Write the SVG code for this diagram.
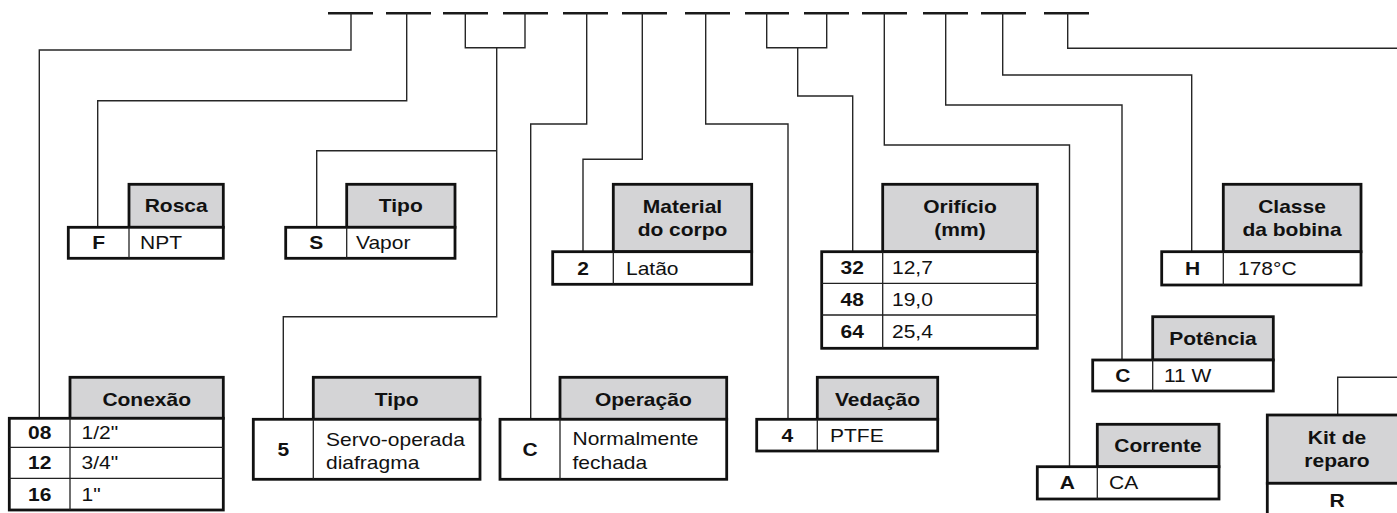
<svg xmlns="http://www.w3.org/2000/svg" width="1397" height="513" viewBox="0 0 1397 513">
<style>
.bg{fill:#ffffff}
.ds{stroke:#1a1a1a;stroke-width:2.6;fill:none}
.cn{stroke:#262626;stroke-width:1.4;fill:none}
.hd{fill:#d4d4d6;stroke:#111;stroke-width:2.8}
.rw{fill:#ffffff;stroke:#111;stroke-width:2.8}
.dv{stroke:#222;stroke-width:1.3;fill:none}
text{font-family:"Liberation Sans",Arial,Helvetica,sans-serif;font-size:17.5px;fill:#111}
.th{font-weight:bold;text-anchor:middle}
.cd{font-weight:bold;text-anchor:middle}
.vl{text-anchor:start}
</style>
<rect class="bg" x="0" y="0" width="1397" height="513"/>
<g id="connectors">
<path class="ds" d="M328,13.3H373M386,13.3H431M443,13.3H488M503,13.3H548M563,13.3H608M622,13.3H667M685,13.3H730M745,13.3H789M804,13.3H849M862,13.3H907M923,13.3H968M981,13.3H1026M1044,13.3H1089"/>
<path class="cn" d="M351,13 V50 H39.3 V418.3"/>
<path class="cn" d="M406.7,13 V100.7 H97.7 V227.3"/>
<path class="cn" d="M465.3,13 V47.7 H525 V13 M496.7,47.7 V316.7 H283.3 V419.3 M496.7,150.7 H316.7 V227.3"/>
<path class="cn" d="M586.7,13 V124 H530.7 V419.3"/>
<path class="cn" d="M642.3,13 V159.3 H583 V251.7"/>
<path class="cn" d="M705.7,13 V124 H788 V419.3"/>
<path class="cn" d="M766.7,13 V47.7 H826.7 V13 M797.7,47.7 V96 H852.7 V251.7"/>
<path class="cn" d="M884.3,13 V145 H1069.5 V466.7"/>
<path class="cn" d="M945.7,13 V105 H1122 V360"/>
<path class="cn" d="M1002.7,13 V75 H1191.7 V251.7"/>
<path class="cn" d="M1067.7,13 V48.3 H1400 M1400,377.3 H1337.7 V415"/>
</g>
<g id="conexao">
<rect class="hd" x="70" y="377.3" width="153.3" height="41"/>
<rect class="rw" x="9.3" y="418.3" width="214" height="91.7"/>
<path class="dv" d="M70,418.3V510M9.3,447.3H223.3M9.3,478.3H223.3"/>
<text class="th" transform="matrix(1.2 0 0 1 146.7 406)">Conexão</text>
<text class="cd" transform="matrix(1.2 0 0 1 39.7 439.3)">08</text>
<text class="cd" transform="matrix(1.2 0 0 1 39.7 469.3)">12</text>
<text class="cd" transform="matrix(1.2 0 0 1 39.7 500.7)">16</text>
<text class="vl" transform="matrix(1.2 0 0 1 81.5 439.3)">1/2"</text>
<text class="vl" transform="matrix(1.2 0 0 1 81.5 469.3)">3/4"</text>
<text class="vl" transform="matrix(1.2 0 0 1 81.5 500.7)">1"</text>
</g>
<g id="rosca">
<rect class="hd" x="129" y="184.3" width="94.3" height="43"/>
<rect class="rw" x="68.3" y="227.3" width="155" height="31"/>
<path class="dv" d="M129,227.3V258.3"/>
<text class="th" transform="matrix(1.2 0 0 1 176.2 212)">Rosca</text>
<text class="cd" transform="matrix(1.2 0 0 1 98.7 249.3)">F</text>
<text class="vl" transform="matrix(1.2 0 0 1 140 249.3)">NPT</text>
</g>
<g id="tipo-s">
<rect class="hd" x="346.7" y="184.3" width="108.3" height="43"/>
<rect class="rw" x="285.7" y="227.3" width="169.3" height="31"/>
<path class="dv" d="M346.7,227.3V258.3"/>
<text class="th" transform="matrix(1.2 0 0 1 400.8 212)">Tipo</text>
<text class="cd" transform="matrix(1.2 0 0 1 316.2 249.3)">S</text>
<text class="vl" transform="matrix(1.2 0 0 1 356 249.3)">Vapor</text>
</g>
<g id="tipo-5">
<rect class="hd" x="313.3" y="377.3" width="166.7" height="42"/>
<rect class="rw" x="253.3" y="419.3" width="226.7" height="60"/>
<path class="dv" d="M313.3,419.3V479.3"/>
<text class="th" transform="matrix(1.2 0 0 1 396.7 405.5)">Tipo</text>
<text class="cd" transform="matrix(1.2 0 0 1 283.3 455.6)">5</text>
<text class="vl" transform="matrix(1.2 0 0 1 326 445.5)">Servo-operada</text>
<text class="vl" transform="matrix(1.2 0 0 1 326 468.8)">diafragma</text>
</g>
<g id="material">
<rect class="hd" x="613.3" y="184.3" width="138.4" height="67.4"/>
<rect class="rw" x="552.7" y="251.7" width="199" height="32.6"/>
<path class="dv" d="M613.3,251.7V284.3"/>
<text class="th" transform="matrix(1.2 0 0 1 682.5 212.5)">Material</text>
<text class="th" transform="matrix(1.2 0 0 1 682.5 235.5)">do corpo</text>
<text class="cd" transform="matrix(1.2 0 0 1 583 274.5)">2</text>
<text class="vl" transform="matrix(1.2 0 0 1 626 274.5)">Latão</text>
</g>
<g id="operacao">
<rect class="hd" x="560" y="377.3" width="166.7" height="42"/>
<rect class="rw" x="500" y="419.3" width="226.7" height="60"/>
<path class="dv" d="M560,419.3V479.3"/>
<text class="th" transform="matrix(1.2 0 0 1 643.3 405.5)">Operação</text>
<text class="cd" transform="matrix(1.2 0 0 1 530 455.6)">C</text>
<text class="vl" transform="matrix(1.2 0 0 1 572.5 445)">Normalmente</text>
<text class="vl" transform="matrix(1.2 0 0 1 572.5 468.8)">fechada</text>
</g>
<g id="vedacao">
<rect class="hd" x="817.3" y="377.3" width="120.4" height="42"/>
<rect class="rw" x="756.7" y="419.3" width="181" height="31.7"/>
<path class="dv" d="M817.3,419.3V451"/>
<text class="th" transform="matrix(1.2 0 0 1 877.5 405.5)">Vedação</text>
<text class="cd" transform="matrix(1.2 0 0 1 787.3 441.7)">4</text>
<text class="vl" transform="matrix(1.2 0 0 1 830 441.7)">PTFE</text>
</g>
<g id="orificio">
<rect class="hd" x="882.7" y="184.3" width="154.6" height="67.4"/>
<rect class="rw" x="821.7" y="251.7" width="215.6" height="96.6"/>
<path class="dv" d="M882.7,251.7V348.3M821.7,283.3H1037.3M821.7,315H1037.3"/>
<text class="th" transform="matrix(1.2 0 0 1 960 212.5)">Orifício</text>
<text class="th" transform="matrix(1.2 0 0 1 960 235.5)">(mm)</text>
<text class="cd" transform="matrix(1.2 0 0 1 852.2 274)">32</text>
<text class="cd" transform="matrix(1.2 0 0 1 852.2 305.7)">48</text>
<text class="cd" transform="matrix(1.2 0 0 1 852.2 338.2)">64</text>
<text class="vl" transform="matrix(1.2 0 0 1 892 274)">12,7</text>
<text class="vl" transform="matrix(1.2 0 0 1 892 305.7)">19,0</text>
<text class="vl" transform="matrix(1.2 0 0 1 892 338.2)">25,4</text>
</g>
<g id="classe">
<rect class="hd" x="1223.3" y="184.3" width="137.7" height="67.4"/>
<rect class="rw" x="1161.7" y="251.7" width="199.3" height="33.3"/>
<path class="dv" d="M1223.3,251.7V285"/>
<text class="th" transform="matrix(1.2 0 0 1 1292 212.5)">Classe</text>
<text class="th" transform="matrix(1.2 0 0 1 1292 235.5)">da bobina</text>
<text class="cd" transform="matrix(1.2 0 0 1 1192.5 274.8)">H</text>
<text class="vl" transform="matrix(1.2 0 0 1 1238 274.8)">178°C</text>
</g>
<g id="potencia">
<rect class="hd" x="1152.7" y="316.7" width="120.6" height="43.3"/>
<rect class="rw" x="1092.7" y="360" width="180.6" height="31"/>
<path class="dv" d="M1152.7,360V391"/>
<text class="th" transform="matrix(1.2 0 0 1 1213 345)">Potência</text>
<text class="cd" transform="matrix(1.2 0 0 1 1122.7 382)">C</text>
<text class="vl" transform="matrix(1.2 0 0 1 1164 382)">11 W</text>
</g>
<g id="corrente">
<rect class="hd" x="1097.3" y="424.3" width="121.7" height="42.4"/>
<rect class="rw" x="1037.3" y="466.7" width="181.7" height="32.3"/>
<path class="dv" d="M1097.3,466.7V499"/>
<text class="th" transform="matrix(1.2 0 0 1 1158 452)">Corrente</text>
<text class="cd" transform="matrix(1.2 0 0 1 1067.3 489.3)">A</text>
<text class="vl" transform="matrix(1.2 0 0 1 1109 489.3)">CA</text>
</g>
<g id="kit-reparo">
<rect class="hd" x="1267.3" y="415" width="139" height="68.3"/>
<rect class="rw" x="1267.3" y="483.3" width="139" height="40"/>
<text class="th" transform="matrix(1.2 0 0 1 1337 443.7)">Kit de</text>
<text class="th" transform="matrix(1.2 0 0 1 1337 466.7)">reparo</text>
<text class="cd" transform="matrix(1.2 0 0 1 1337 507)">R</text>
</g>
</svg>
